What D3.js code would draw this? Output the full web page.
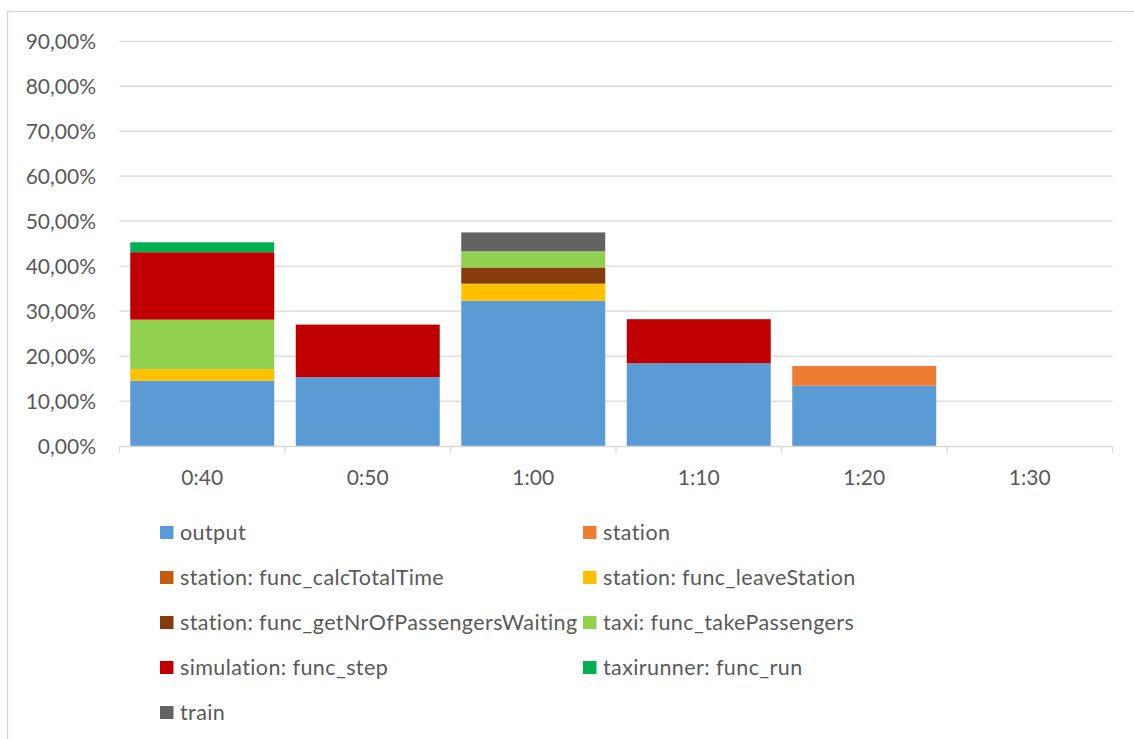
<!DOCTYPE html>
<html>
<head>
<meta charset="utf-8">
<script src="https://cdn.jsdelivr.net/npm/d3@7"></script>
<style>
  html, body { margin: 0; padding: 0; background: #fff; }
  svg { display: block; font-family: Lato, "Open Sans", sans-serif; }
</style>
</head>
<body>
<svg id="chart" width="1134" height="739"></svg>
<script>
// Time slots on the x axis
const categories = ["0:40", "0:50", "1:00", "1:10", "1:20", "1:30"];

// Share of runtime per function, one array per series (fractions)
const output          = [0.145, 0.153, 0.323, 0.184, 0.134, 0];
const station         = [0,     0,     0,     0,     0.044, 0];
const calcTotalTime   = [0,     0,     0,     0,     0,     0];
const leaveStation    = [0.026, 0,     0.038, 0,     0,     0];
const getNrWaiting    = [0,     0,     0.036, 0,     0,     0];
const takePassengers  = [0.110, 0,     0.036, 0,     0,     0];
const simulationStep  = [0.150, 0.117, 0,     0.098, 0,     0];
const taxirunnerRun   = [0.022, 0,     0,     0,     0,     0];
const train           = [0,     0,     0.042, 0,     0,     0];

const seriesNames = [
  "output", "station", "station: func_calcTotalTime", "station: func_leaveStation",
  "station: func_getNrOfPassengersWaiting", "taxi: func_takePassengers",
  "simulation: func_step", "taxirunner: func_run", "train"
];
const seriesValues = [output, station, calcTotalTime, leaveStation, getNrWaiting,
  takePassengers, simulationStep, taxirunnerRun, train];
const seriesColors = ["#5B9BD5", "#ED7D31", "#C55A11", "#FFC000", "#843C0C",
  "#92D050", "#C00000", "#00B050", "#636363"];

const yTicks = [0, 0.1, 0.2, 0.3, 0.4, 0.5, 0.6, 0.7, 0.8, 0.9];
const yTickLabels = ["0,00%", "10,00%", "20,00%", "30,00%", "40,00%", "50,00%",
  "60,00%", "70,00%", "80,00%", "90,00%"];

const svg = d3.select("#chart");
const textColor = "#595959";
const gridColor = "#d9d9d9";

// outer chart frame
svg.append("rect")
  .attr("x", 7.5).attr("y", 11.5)
  .attr("width", 1140).attr("height", 740)
  .attr("fill", "none").attr("stroke", gridColor).attr("stroke-width", 1.3);

const plot = { left: 119.5, right: 1112.5, top: 41.3, bottom: 446 };

const x = d3.scaleBand()
  .domain(categories)
  .range([plot.left, plot.right])
  .paddingInner(0.13)
  .paddingOuter(0.065);

const y = d3.scaleLinear()
  .domain([0, 0.9])
  .range([plot.bottom, plot.top]);

// horizontal gridlines
svg.append("g")
  .selectAll("line")
  .data(yTicks.slice(1))
  .join("line")
  .attr("x1", plot.left).attr("x2", plot.right)
  .attr("y1", d => y(d)).attr("y2", d => y(d))
  .attr("stroke", gridColor).attr("stroke-width", 1.3);

// y-axis labels
svg.append("g")
  .selectAll("text")
  .data(yTicks)
  .join("text")
  .attr("x", 96)
  .attr("y", d => y(d))
  .attr("dy", "0.36em")
  .attr("text-anchor", "end")
  .attr("fill", textColor)
  .attr("font-size", 21)
  .text((d, i) => yTickLabels[i]);

// stacked bars
const rows = categories.map((c, i) => {
  const r = { category: c };
  seriesNames.forEach((n, k) => { r[n] = seriesValues[k][i]; });
  return r;
});
const stacked = d3.stack().keys(seriesNames)(rows);

svg.append("g")
  .selectAll("g")
  .data(stacked)
  .join("g")
  .attr("fill", (d, i) => seriesColors[i])
  .selectAll("rect")
  .data(d => d.filter(p => p[1] - p[0] > 0))
  .join("rect")
  .attr("x", d => x(d.data.category))
  .attr("width", x.bandwidth())
  .attr("y", d => y(d[1]))
  .attr("height", d => y(d[0]) - y(d[1]));

// x axis line and category ticks
const xAxis = svg.append("g");
xAxis.append("line")
  .attr("x1", plot.left).attr("x2", plot.right)
  .attr("y1", plot.bottom + 0.5).attr("y2", plot.bottom + 0.5)
  .attr("stroke", gridColor).attr("stroke-width", 1.3);
const boundaries = categories.map(c => x(c) - x.step() * x.paddingInner() / 2)
  .concat([plot.right]);
xAxis.selectAll("line.tick")
  .data(boundaries)
  .join("line")
  .attr("class", "tick")
  .attr("x1", d => d).attr("x2", d => d)
  .attr("y1", plot.bottom).attr("y2", plot.bottom + 7)
  .attr("stroke", gridColor).attr("stroke-width", 1.3);
xAxis.selectAll("text")
  .data(categories)
  .join("text")
  .attr("x", d => x(d) + x.bandwidth() / 2)
  .attr("y", 477.5)
  .attr("dy", "0.36em")
  .attr("text-anchor", "middle")
  .attr("fill", textColor)
  .attr("font-size", 21)
  .text(d => d);

// legend in two columns
const legendCols = [160, 583];
const legendRow0 = 532.5, legendRowStep = 45;
const legend = svg.append("g")
  .selectAll("g")
  .data(seriesNames)
  .join("g")
  .attr("transform", (d, i) =>
    `translate(${legendCols[i % 2]},${legendRow0 + Math.floor(i / 2) * legendRowStep})`);
legend.append("rect")
  .attr("x", 0).attr("y", -6.5)
  .attr("width", 13.5).attr("height", 13)
  .attr("fill", (d, i) => seriesColors[i]);
legend.append("text")
  .attr("x", 20)
  .attr("y", 0)
  .attr("dy", "0.36em")
  .attr("fill", textColor)
  .attr("font-size", 21.5)
  .attr("letter-spacing", 0.4)
  .text(d => d);
</script>
</body>
</html>
